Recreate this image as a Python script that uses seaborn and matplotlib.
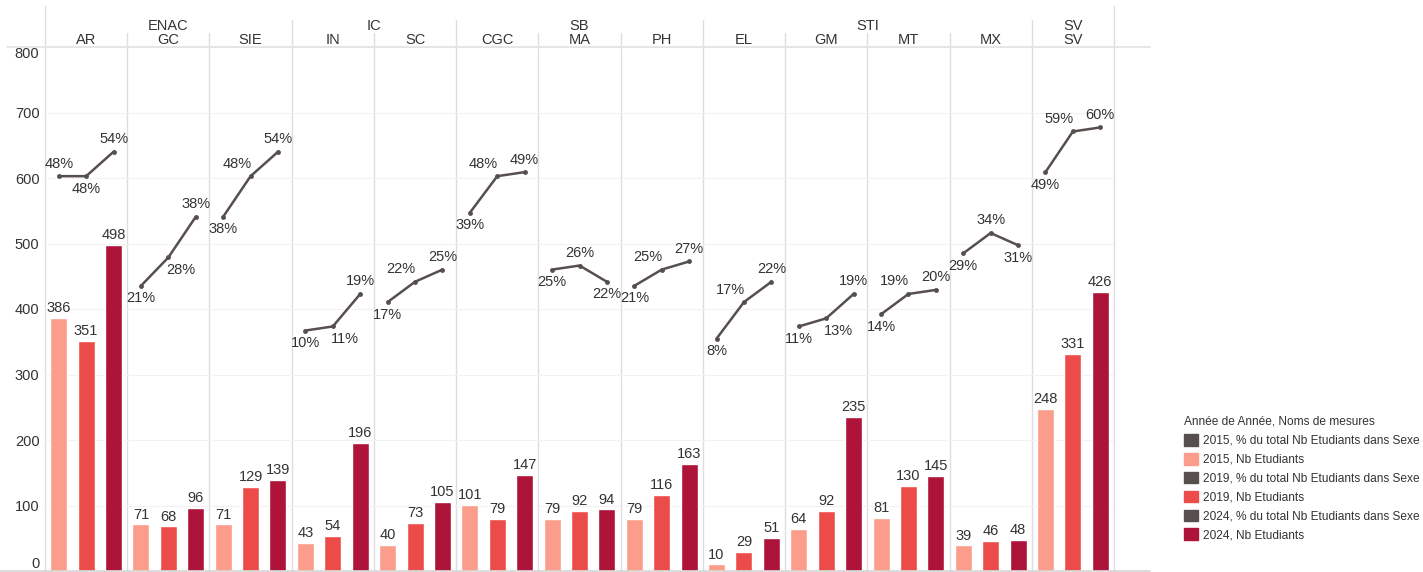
import pandas as pd
import numpy as np
import matplotlib
matplotlib.use("Agg")
import matplotlib.pyplot as plt
from matplotlib.lines import Line2D
from matplotlib.patches import Patch
import seaborn as sns

# ── Data ─────────────────────────────────────────────────────
programs = ["AR", "GC", "SIE", "IN", "SC", "CGC", "MA", "PH", "EL", "GM", "MT", "MX", "SV"]
sections = ["ENAC", "ENAC", "ENAC", "IC", "IC", "SB", "SB", "SB", "STI", "STI", "STI", "STI", "SV"]
years = ["2015", "2019", "2024"]

nb_2015 = [386, 71, 71, 43, 40, 101, 79, 79, 10, 64, 81, 39, 248]
nb_2019 = [351, 68, 129, 54, 73, 79, 92, 116, 29, 92, 130, 46, 331]
nb_2024 = [498, 96, 139, 196, 105, 147, 94, 163, 51, 235, 145, 48, 426]

pct_2015 = [48, 21, 38, 10, 17, 39, 25, 21, 8, 11, 14, 29, 49]
pct_2019 = [48, 28, 48, 11, 22, 48, 26, 25, 17, 13, 19, 34, 59]
pct_2024 = [54, 38, 54, 19, 25, 49, 22, 27, 22, 19, 20, 31, 60]

bar_colors = {"2015": "#FB9D8A", "2019": "#EB4C4A", "2024": "#AE1339"}
line_color = "#574F4E"
text_color = "#333333"
sep_color = "#DEDEDE"

# long tables
bars = pd.DataFrame({
    "program": programs * 3,
    "year": sum([[y] * len(programs) for y in years], []),
    "nb": nb_2015 + nb_2019 + nb_2024,
})
pcts = pd.DataFrame({
    "program": programs * 3,
    "year": sum([[y] * len(programs) for y in years], []),
    "pct": np.array(pct_2015 + pct_2019 + pct_2024) / 100,
})
# x position of each point = program slot + dodge of its year
pcts["x"] = pcts["program"].map({p: i for i, p in enumerate(programs)}) + \
    pcts["year"].map({y: (k - 1) / 3 for k, y in enumerate(years)})

# ── Figure ───────────────────────────────────────────────────
sns.set_theme(style="white")
plt.rcParams["font.family"] = ["Liberation Sans", "DejaVu Sans"]

W, H = 1423, 572
fig = plt.figure(figsize=(W / 100, H / 100), dpi=100)
left, right, top, bottom = 45, 1114, 47, 571
ax = fig.add_axes([left / W, 1 - bottom / H, (right - left) / W, (bottom - top) / H])

sns.barplot(data=bars, x="program", y="nb", hue="year", order=programs,
            hue_order=years, palette=bar_colors, saturation=1, width=1.0, gap=0.38,
            errorbar=None, legend=False, ax=ax)
for cont in ax.containers:
    ax.bar_label(cont, padding=2, fontsize=10.5, color=text_color)

ax.set_xlim(-0.5, len(programs) - 0.5)
ax.set_ylim(0, 800)
ax.set_yticks(range(0, 801, 100))
ax.tick_params(axis="y", labelsize=10.5, labelcolor=text_color, pad=4, length=0)
ylabels = ax.get_yticklabels()
ylabels[0].set_va("bottom")
ylabels[-1].set_va("top")
ax.set_xticks([])
ax.set_xlabel("")
ax.set_ylabel("")
ax.grid(axis="y", color="#F2F2F2", linewidth=0.8)
for s in ["top", "right", "left", "bottom"]:
    ax.spines[s].set_visible(False)

# ── Percentage lines on hidden second axis ───────────────────
ax2 = ax.twinx()
sns.lineplot(data=pcts, x="x", y="pct", units="program", estimator=None,
             sort=False, color=line_color, linewidth=1.8, marker="o",
             markersize=3.5, markeredgewidth=0, ax=ax2)
ax2.set_ylim(-0.492, 0.798)
ax2.set_xlim(-0.5, len(programs) - 0.5)
ax2.set_yticks([])
ax2.set_ylabel("")
ax2.set_xlabel("")
for s in ax2.spines.values():
    s.set_visible(False)

for i, p in enumerate(programs):
    vals = [pct_2015[i], pct_2019[i], pct_2024[i]]
    xs = pcts.loc[pcts["program"] == p, "x"].tolist()
    above = [
        vals[1] <= vals[0],
        vals[1] >= (vals[0] + vals[2]) / 2,
        vals[2] >= vals[1],
    ]
    # middle label pushed to the outside of the bend when the line is monotonic
    mono = (vals[0] < vals[1] < vals[2]) or (vals[0] > vals[1] > vals[2])
    dxs = [0, (-10 if above[1] else 9) if mono else 0, 0]
    for x, v, up, dx in zip(xs, vals, above, dxs):
        ax2.annotate(f"{v}%", (x, v / 100), xytext=(dx, 4 if up else -4),
                     textcoords="offset points", ha="center",
                     va="bottom" if up else "top", fontsize=10.5, color=text_color)

# ── Panel separators and headers ─────────────────────────────
tr = ax.get_xaxis_transform()
hpx = bottom - top
def ax_y(py):
    return (bottom - py) / hpx

for k in range(len(programs) + 1):
    xb = k - 0.5
    if k == 0 or k == len(programs):
        y_top = 6
    elif sections[k] != sections[k - 1]:
        y_top = 20
    else:
        y_top = 33
    ax.plot([xb, xb], [0, ax_y(y_top)], transform=tr, color=sep_color,
            linewidth=1, clip_on=False, zorder=0)

for i, p in enumerate(programs):
    ax.text(i, ax_y(40), p, transform=tr, ha="center", va="center",
            fontsize=10.5, color=text_color)

for sec in dict.fromkeys(sections):
    idx = [i for i, s in enumerate(sections) if s == sec]
    ax.text((idx[0] + idx[-1]) / 2, ax_y(26), sec, transform=tr, ha="center",
            va="center", fontsize=10.5, color=text_color)

fig.add_artist(Line2D([7 / W, 1150 / W], [1 - top / H] * 2, color="#E3E3E3", linewidth=1.2))
fig.add_artist(Line2D([0, 1150 / W], [1 - bottom / H] * 2, color="#D6D6D6", linewidth=1.2))

# ── Legend ───────────────────────────────────────────────────
handles, labels = [], []
for y in years:
    handles.append(Patch(color=line_color))
    labels.append(f"{y}, % du total Nb Etudiants dans Sexe")
    handles.append(Patch(color=bar_colors[y]))
    labels.append(f"{y}, Nb Etudiants")
leg = fig.legend(handles, labels, title="Année de Année, Noms de mesures",
                 loc="upper left", bbox_to_anchor=(1179 / W, 1 - 411 / H),
                 frameon=False, fontsize=8.6, title_fontsize=8.6, alignment="left",
                 handlelength=1.15, handleheight=1.15, handletextpad=0.45,
                 labelspacing=0.5, borderaxespad=0)
for t in leg.get_texts():
    t.set_color(text_color)
leg.get_title().set_color(text_color)

plt.savefig("out.png", dpi=100)
plt.close()
